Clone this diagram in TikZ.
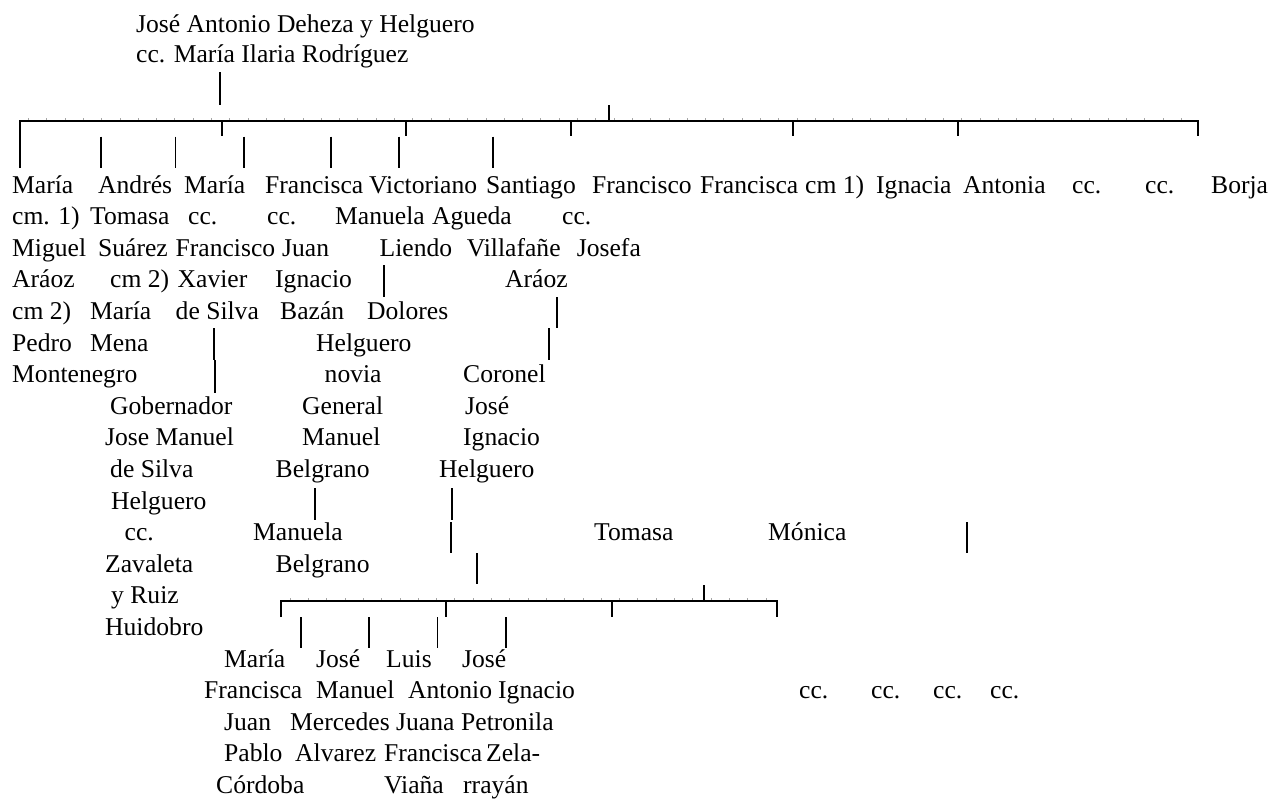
\documentclass[tikz,border=0pt]{standalone}
\usepackage{fontspec}
\setmainfont{Liberation Serif}
\begin{document}
\begin{tikzpicture}[x=1pt,y=-1pt,
  txt/.style={anchor=base west,inner sep=0pt,font=\fontsize{25.6}{31.6}\selectfont},
  ln/.style={line width=1.7pt,black},
  tk/.style={line width=0.5pt,black!35}]
\fill[white] (0,0) rectangle (1269,804);
\useasboundingbox (0,0) rectangle (1269,804);
\newcommand{\rowtext}[2]{\foreach \xx/\wtext [count=\i] in {#2} {\node[txt] (r#1-\i) at (\xx,{193+(#1-1)*31.6}) {\wtext};}}
\newcommand{\vl}[3]{\draw[ln] (#1,#2) -- (#1,#3);}
% title
\node[txt] (t1) at (136,32) {José Antonio Deheza y Helguero};
\node[txt] (t2) at (136,62) {cc. María Ilaria Rodríguez};
% main bar
\foreach \t in {28.3,46.6,...,1190} \draw[tk] (\t,121) -- (\t,118);
\draw[ln] (20,168) -- (20,121) -- (1198,121) -- (1198,136);
\vl{220}{72}{105}
\vl{609}{105}{121}
\foreach \t in {222,406,571,793,958} {\vl{\t}{121}{136}}
\foreach \t in {101,175.5,244,331,399,493} {\vl{\t}{136.5}{168}}
% rows
\rowtext{1}{12/María,98/Andrés,184/María,265/Francisca,369/Victoriano,486/Santiago,592/Francisco,700/Francisca,805/cm 1),876/Ignacia,963/Antonia,1072/cc.,1145/cc.,1211/Borja}
\rowtext{2}{12/cm. 1),90/Tomasa,188/cc.,267/cc.,335/Manuela,432/Agueda,562/cc.}
\rowtext{3}{12/Miguel,98/Suárez,175.5/Francisco,282/Juan,379.5/Liendo,466.7/Villafañe,576.7/Josefa}
\rowtext{4}{12/Aráoz,110/cm 2),177.5/Xavier,275/Ignacio,505/Aráoz}
\rowtext{5}{12/cm 2),90/María,175.5/de Silva,280/Bazán,367/Dolores}
\rowtext{6}{12/Pedro,90/Mena,316/Helguero}
\rowtext{7}{12/Montenegro,324.5/novia,463/Coronel}
\rowtext{8}{110/Gobernador,302/General,465/José}
\rowtext{9}{105/Jose Manuel,302/Manuel,463/Ignacio}
\rowtext{10}{110/de Silva,275.5/Belgrano,439/Helguero}
\rowtext{11}{111/Helguero}
\rowtext{12}{124.5/cc.,253/Manuela,594/Tomasa,768/Mónica}
\rowtext{13}{105/Zavaleta,275.5/Belgrano}
\rowtext{14}{111/y Ruiz}
\rowtext{15}{105/Huidobro}
\rowtext{16}{224/María,316/José,386/Luis,462/José}
\rowtext{17}{204/Francisca,316/Manuel,408/Antonio,498/Ignacio,799/cc.,871/cc.,933/cc.,990/cc.}
\rowtext{18}{224/Juan,290/Mercedes,396/Juana,461/Petronila}
\rowtext{19}{224/Pablo,295/Alvarez,384/Francisca,486/Zela-}
\rowtext{20}{216/Córdoba,384/Viaña,463/rrayán}
% vertical connectors in the text area
\vl{384}{265}{297}
\vl{557}{297}{328}
\vl{214}{328}{360}
\vl{549}{328}{360}
\vl{215}{360}{393}
\vl{315}{488}{520}
\vl{452}{488}{520}
\vl{451}{522}{553}
\vl{967}{522}{553}
\vl{477}{553}{584}
% lower bar
\foreach \t in {290,308.3,...,770} \draw[tk] (\t,601) -- (\t,598);
\draw[ln] (281,617) -- (281,601) -- (777,601) -- (777,617);
\vl{704}{585}{601}
\foreach \t in {446,612} {\vl{\t}{601}{617}}
\foreach \t in {301,369,437.5,506} {\vl{\t}{617}{648}}
\end{tikzpicture}
\end{document}
